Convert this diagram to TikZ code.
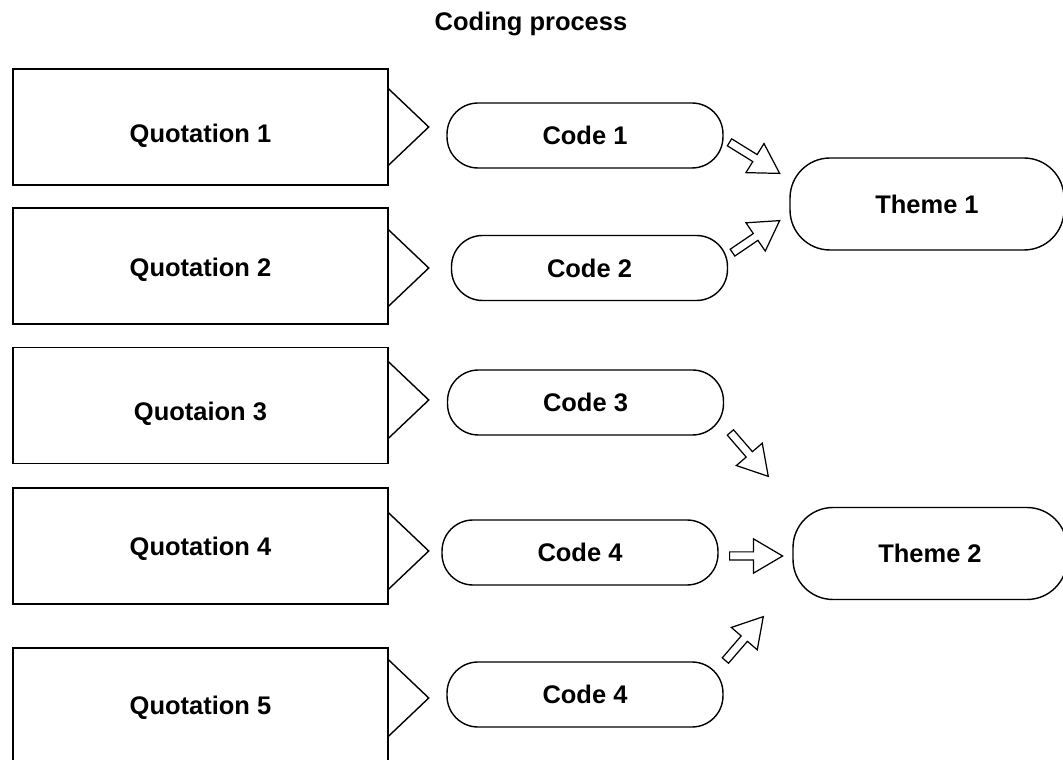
\documentclass[tikz,border=0pt]{standalone}
\usepackage{fontspec}
\setmainfont{Liberation Sans}
\usepackage{tikz}
\usetikzlibrary{shapes}
\usetikzlibrary{shapes.arrows}
\tikzstyle{quote}=[rectangle,draw=black,line width=0.9pt,minimum width=7.5cm,minimum height=2.32cm,inner sep=0mm]
\tikzstyle{code}=[rectangle,draw=black,line width=0.8pt,rounded corners=0.62cm,minimum width=5.52cm,minimum height=1.3cm,inner sep=0mm]
\tikzstyle{theme}=[rectangle,draw=black,line width=0.8pt,rounded corners=0.8cm,minimum width=5.48cm,minimum height=1.84cm,inner sep=0mm]
\tikzstyle{blockarrow}=[single arrow,draw=black,line width=0.7pt,inner xsep=0mm,inner ysep=0.07cm,single arrow head extend=0.26cm,single arrow tip angle=61,single arrow head indent=0mm,anchor=tail]
\tikzset{every node/.style={font=\fontsize{14.5}{17}\selectfont\bfseries}}

\begin{document}
\begin{tikzpicture}[x=0.02cm,y=-0.02cm]
      \clip (0,0) rectangle (1063,760);
      \node (title) at (531,24) {Coding process};
      \node[quote] at (200.5,127) (q1) {};
      \node[quote] at (200.5,266) (q2) {};
      \node[quote] at (200.5,405.5) (q3) {};
      \node[quote] at (200.5,546) (q4) {};
      \node[quote] at (200.5,706) (q5) {};
      \node at (200.5,136) (l1) {Quotation 1};
      \node at (200.5,270) (l2) {Quotation 2};
      \node at (200.5,414) (l3) {Quotaion 3};
      \node at (200.5,549) (l4) {Quotation 4};
      \node at (200.5,708) (l5) {Quotation 5};
      % pointers on the right side of the quotations
      \foreach \i/\yc in {1/127,2/268,3/400,4/551,5/698}
        \draw[line width=0.8pt] (q\i.east |- 0,\yc-38) -- ++(40,38) -- ++(-40,38);
      \node[code] at (585,135.5) (c1) {Code 1};
      \node[code] at (589.5,268) (c2) {Code 2};
      \node[code] at (585.5,402.5) (c3) {Code 3};
      \node[code] at (580,552.5) (c4) {Code 4};
      \node[code] at (585,694.5) (c5) {Code 4};
      \node[theme] at (927,204) (t1) {Theme 1};
      \node[theme] at (930,553.5) (t2) {Theme 2};
      \node[blockarrow,minimum height=1.18cm,rotate=-31.8] at (729,142) (a1) {};
      \node[blockarrow,minimum height=1.14cm,rotate=34.2] at (732,253) (a2) {};
      \node[blockarrow,minimum height=1.16cm,rotate=-49.2] at (730,432) (a3) {};
      \node[blockarrow,minimum height=1.06cm] at (729,556) (a4) {};
      \node[blockarrow,minimum height=1.16cm,rotate=49.2] at (725,661) (a5) {};
    \end{tikzpicture}
\end{document}
